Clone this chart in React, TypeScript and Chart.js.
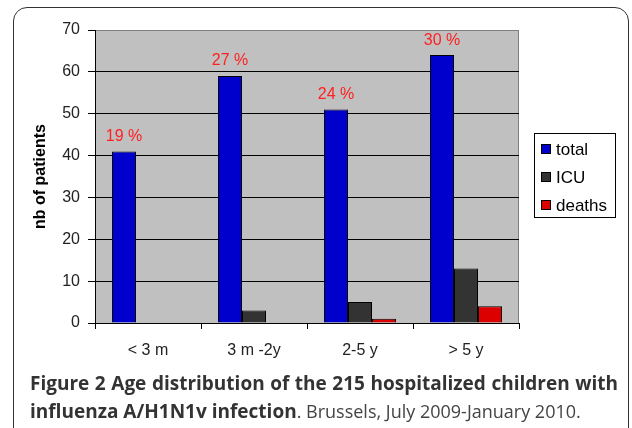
import React, { useEffect, useRef } from "react";
import { Chart, registerables } from "chart.js";

Chart.register(...registerables);

const categories = ["< 3 m", "3 m -2y", "2-5 y", "> 5 y"];
const totalValues = [41, 59, 51, 64];
const icuValues = [0, 3, 5, 13];
const deathValues = [0, 0, 1, 4];
const percentLabels = ["19 %", "27 %", "24 %", "30 %"];
const seriesNames = ["total", "ICU", "deaths"];
const seriesColors = ["#0000cc", "#333333", "#dd0000"];
const yTicks = [0, 10, 20, 30, 40, 50, 60, 70];

const FONT = "Arial, 'Liberation Sans', sans-serif";

const plotBgPlugin = {
  id: "plotBg",
  beforeDraw(chart: any) {
    const { ctx, chartArea: a } = chart;
    ctx.save();
    ctx.fillStyle = "#c0c0c0";
    ctx.fillRect(a.left, a.top, a.right - a.left, a.bottom - a.top);
    ctx.strokeStyle = "#808080";
    ctx.lineWidth = 1;
    ctx.beginPath();
    ctx.moveTo(a.left, a.top + 0.5);
    ctx.lineTo(a.right - 0.5, a.top + 0.5);
    ctx.lineTo(a.right - 0.5, a.bottom);
    ctx.stroke();
    ctx.restore();
  },
};

const overlayPlugin = {
  id: "overlay",
  afterDraw(chart: any) {
    const { ctx, chartArea: a } = chart;
    ctx.save();
    // percentage labels
    const meta = chart.getDatasetMeta(0);
    ctx.fillStyle = "#ff2020";
    ctx.font = `16px ${FONT}`;
    ctx.textAlign = "center";
    ctx.textBaseline = "middle";
    meta.data.forEach((bar: any, i: number) => {
      ctx.fillText(percentLabels[i], bar.x, bar.y - 15);
    });
    // legend
    const lx = a.right + 15;
    const ly = 133;
    const lw = 82;
    const lh = 85;
    ctx.fillStyle = "#ffffff";
    ctx.fillRect(lx, ly, lw, lh);
    ctx.strokeStyle = "#000";
    ctx.lineWidth = 1;
    ctx.strokeRect(lx + 0.5, ly + 0.5, lw - 1, lh - 1);
    ctx.font = `17px ${FONT}`;
    ctx.textAlign = "left";
    ctx.textBaseline = "middle";
    seriesNames.forEach((name, i) => {
      const cy = ly + 16 + i * 28;
      ctx.fillStyle = seriesColors[i];
      ctx.fillRect(lx + 7, cy - 5, 10, 10);
      ctx.strokeStyle = "#000";
      ctx.strokeRect(lx + 7.5, cy - 4.5, 9, 9);
      ctx.fillStyle = "#000";
      ctx.fillText(name, lx + 22, cy + 1);
    });
    ctx.restore();
  },
};

export default function App() {
  const ref = useRef<HTMLCanvasElement | null>(null);
  useEffect(() => {
    if (!ref.current) return;
    const chart = new Chart(ref.current, {
      type: "bar",
      data: {
        labels: categories,
        datasets: [
          { label: seriesNames[0], data: totalValues, backgroundColor: seriesColors[0] },
          { label: seriesNames[1], data: icuValues, backgroundColor: seriesColors[1] },
          { label: seriesNames[2], data: deathValues, backgroundColor: seriesColors[2] },
        ].map((d) => ({
          ...d,
          borderColor: "#000",
          borderWidth: 1,
          barPercentage: 1,
          categoryPercentage: 0.68,
        })),
      },
      options: {
        responsive: false,
        animation: false,
        layout: { padding: { left: 28, top: 30, right: 113, bottom: 0 } },
        plugins: {
          legend: { display: false },
          tooltip: { enabled: false },
        },
        scales: {
          x: {
            afterFit: (s: any) => {
              s.height = 47;
            },
            grid: {
              display: true,
              drawOnChartArea: false,
              drawTicks: true,
              tickLength: 6,
              color: "#000",
              offset: true,
            },
            border: { display: true, color: "#000", width: 1 },
            ticks: {
              color: "#222",
              font: { family: FONT, size: 16 },
              padding: 12,
            },
          },
          y: {
            min: 0,
            max: 70,
            afterFit: (s: any) => {
              s.width = 67;
            },
            afterBuildTicks: (s: any) => {
              s.ticks = yTicks.map((v) => ({ value: v }));
            },
            grid: {
              color: (c: any) => (c.tick && c.tick.value === 70 ? "#808080" : "#000"),
              tickColor: "#000",
              drawTicks: true,
              tickLength: 7,
              lineWidth: 1,
            },
            border: { display: true, color: "#000", width: 1 },
            ticks: {
              color: "#222",
              font: { family: FONT, size: 16 },
              padding: 8,
            },
            title: {
              display: true,
              text: "nb of patients",
              color: "#000",
              font: { family: FONT, size: 16, weight: "bold" },
              padding: { top: 3, bottom: 0 },
            },
          },
        },
      },
      plugins: [plotBgPlugin, overlayPlugin],
    } as any);
    return () => chart.destroy();
  }, []);

  return (
    <div
      style={{
        position: "fixed",
        left: 0,
        top: 0,
        width: 632,
        height: 428,
        overflow: "hidden",
        background: "#fff",
      }}
    >
      <div
        style={{
          position: "absolute",
          left: 13,
          top: 7,
          width: 616,
          height: 460,
          border: "1.5px solid #333",
          borderRadius: 14,
          boxSizing: "border-box",
        }}
      />
      <canvas
        ref={ref}
        width={632}
        height={370}
        style={{ position: "absolute", left: 0, top: 0, width: 632, height: 370 }}
      />
      <div
        style={{
          position: "absolute",
          left: 30,
          top: 369,
          width: 588,
          fontFamily: "'Open Sans', sans-serif",
          fontSize: 18,
          lineHeight: "28px",
          color: "#444",
        }}
      >
        <div style={{ textAlign: "justify", textAlignLast: "justify", whiteSpace: "nowrap" }}>
          <b style={{ color: "#333", fontSize: 19 }}>Figure 2 Age distribution of the 215 hospitalized children with</b>
        </div>
        <div>
          <b style={{ color: "#333", fontSize: 19 }}>influenza A/H1N1v infection</b>. Brussels, July 2009-January 2010.
        </div>
      </div>
    </div>
  );
}
